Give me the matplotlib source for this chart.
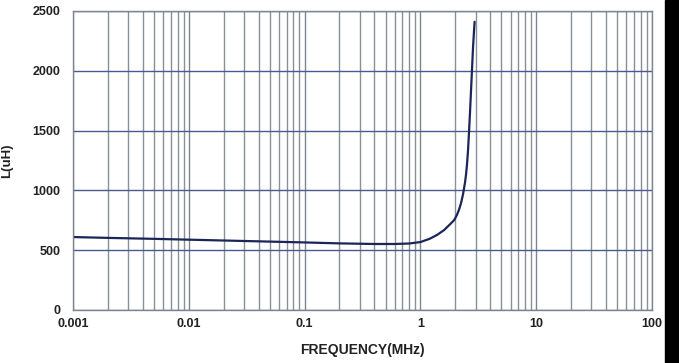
import matplotlib
matplotlib.use("Agg")
import matplotlib.pyplot as plt
from matplotlib.patches import Rectangle
from matplotlib.ticker import LogLocator, FixedLocator, NullFormatter

# Data
freq_mhz = [0.001, 0.002, 0.005, 0.01, 0.03, 0.1, 0.2, 0.4, 0.6, 0.8, 1.0,
            1.2, 1.39, 1.6, 1.8, 1.94, 1.99, 2.07, 2.154, 2.241, 2.333, 2.427,
            2.476, 2.525, 2.576, 2.627, 2.681, 2.735, 2.79, 2.846, 2.903, 2.938]
inductance_uh = [610, 603, 595, 588, 577, 565, 557, 552, 552, 556, 568,
                 595, 627, 668, 716, 748, 764, 796, 838, 892, 966, 1065,
                 1130, 1215, 1330, 1480, 1650, 1830, 2010, 2190, 2330, 2410]

x_ticks = [0.001, 0.01, 0.1, 1, 10, 100]
x_tick_labels = ["0.001", "0.01", "0.1", "1", "10", "100"]
y_ticks = [0, 500, 1000, 1500, 2000, 2500]
y_tick_labels = ["0", "500", "1000", "1500", "2000", "2500"]

W, H = 679, 363
fig = plt.figure(figsize=(W / 100, H / 100), dpi=100)
fig.patch.set_facecolor("white")
ax = fig.add_axes([73 / W, (H - 310) / H, (652 - 73) / W, (310 - 11) / H])

ax.set_xscale("log")
ax.set_xlim(0.001, 100)
ax.set_ylim(0, 2500)

ax.xaxis.set_major_locator(FixedLocator(x_ticks))
ax.xaxis.set_minor_locator(LogLocator(base=10, subs=range(2, 10)))
ax.xaxis.set_minor_formatter(NullFormatter())
ax.set_xticks(x_ticks)
ax.set_xticklabels(x_tick_labels)
ax.set_yticks(y_ticks)
ax.set_yticklabels(y_tick_labels)

ax.grid(True, which="major", axis="x", color="#7d8590", lw=1.0)
ax.grid(True, which="minor", axis="x", color="#8a9098", lw=1.0)
ax.grid(True, which="major", axis="y", color="#4a5a90", lw=1.0)
ax.set_axisbelow(True)

for s in ax.spines.values():
    s.set_color("#7d8590")
    s.set_linewidth(1.0)

ax.tick_params(which="both", length=0)
ax.tick_params(axis="x", pad=6)
ax.tick_params(axis="y", pad=9)
for lab in ax.get_xticklabels() + ax.get_yticklabels():
    lab.set_fontfamily("Liberation Sans")
    lab.set_fontweight("bold")
    lab.set_fontsize(9)
    lab.set_color("#222222")

ax.plot(freq_mhz, inductance_uh, color="#1c2558", lw=1.6,
        solid_capstyle="round", solid_joinstyle="round")

ax.set_xlabel("FREQUENCY(MHz)", fontfamily="Liberation Sans", fontweight="bold",
              fontsize=10, color="#222222", labelpad=9)
ax.set_ylabel("L(uH)", fontfamily="Liberation Sans", fontweight="bold",
              fontsize=9.5, color="#222222", labelpad=14)

# black strip on the right edge
fig.patches.append(Rectangle((665 / W, 0), (W - 665) / W, 1, transform=fig.transFigure,
                             color="black", zorder=10))

fig.savefig("out.png", dpi=100)
